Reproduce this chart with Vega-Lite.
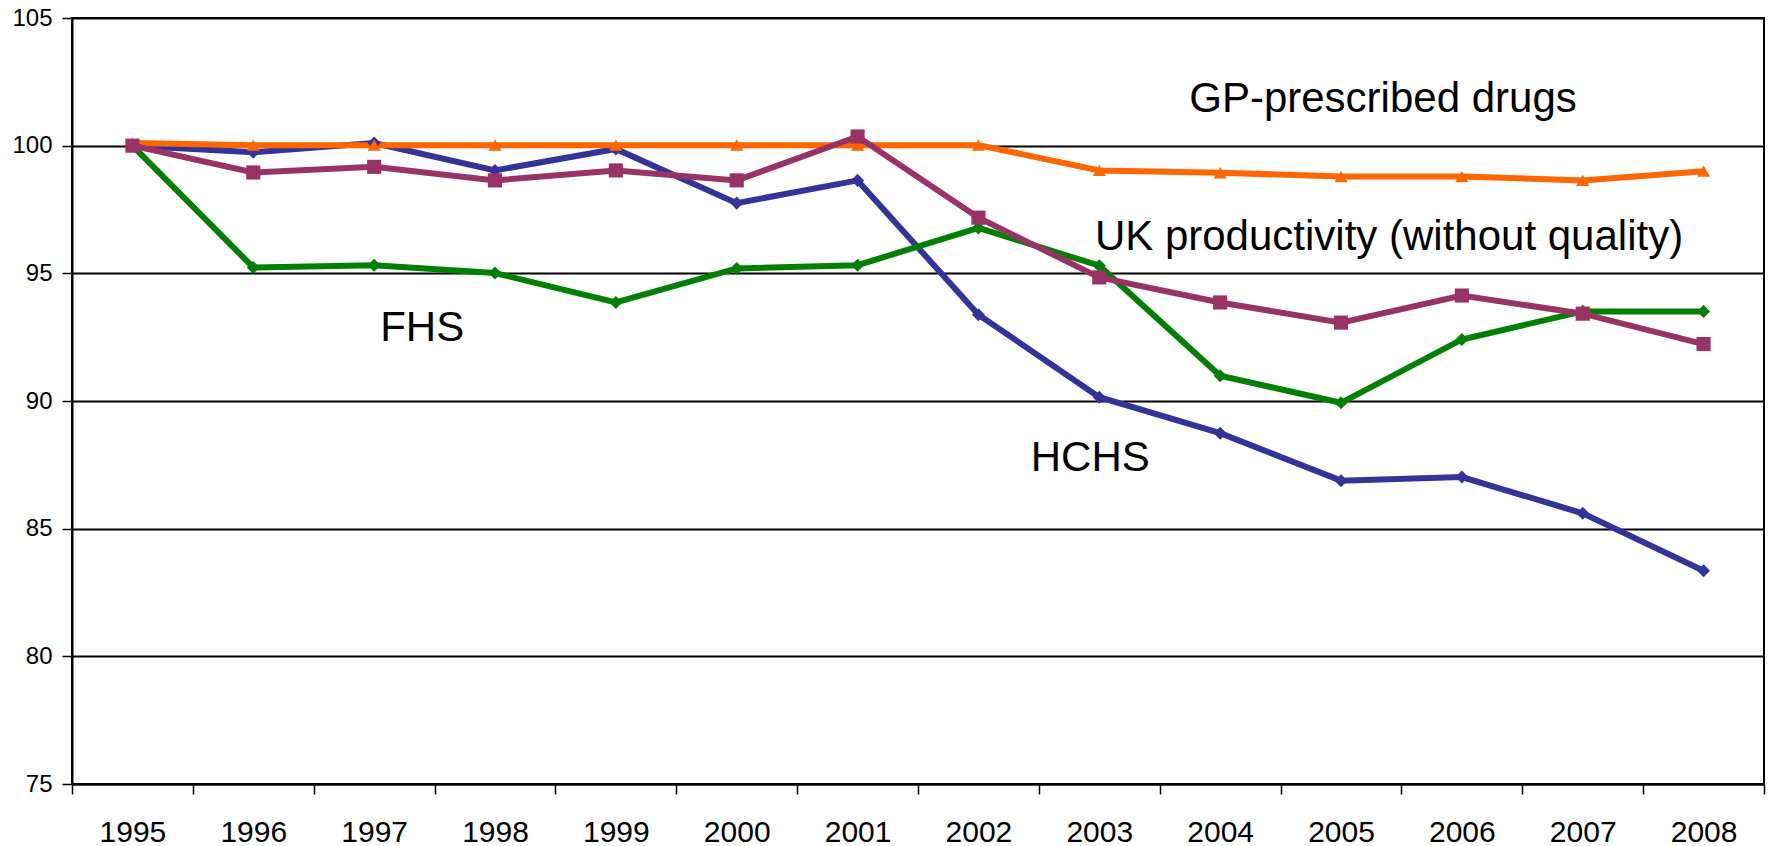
{
  "$schema": "https://vega.github.io/schema/vega-lite/v6.json",
  "autosize": {"type": "none"},
  "padding": {"left": 72, "top": 18, "right": 5, "bottom": 62},
  "width": 1692,
  "height": 766,
  "config": {
    "font": "Liberation Sans",
    "view": {"stroke": "black", "strokeWidth": 2},
    "background": "white"
  },
  "datasets": {
    "series": [
      {"year": "1995", "series": "HCHS", "value": 100.0},
      {"year": "1996", "series": "HCHS", "value": 99.74},
      {"year": "1997", "series": "HCHS", "value": 100.1},
      {"year": "1998", "series": "HCHS", "value": 99.03},
      {"year": "1999", "series": "HCHS", "value": 99.87},
      {"year": "2000", "series": "HCHS", "value": 97.75},
      {"year": "2001", "series": "HCHS", "value": 98.64},
      {"year": "2002", "series": "HCHS", "value": 93.38},
      {"year": "2003", "series": "HCHS", "value": 90.15},
      {"year": "2004", "series": "HCHS", "value": 88.74},
      {"year": "2005", "series": "HCHS", "value": 86.88},
      {"year": "2006", "series": "HCHS", "value": 87.02},
      {"year": "2007", "series": "HCHS", "value": 85.6},
      {"year": "2008", "series": "HCHS", "value": 83.35},
      {"year": "1995", "series": "FHS", "value": 100.0},
      {"year": "1996", "series": "FHS", "value": 95.23},
      {"year": "1997", "series": "FHS", "value": 95.32},
      {"year": "1998", "series": "FHS", "value": 95.01},
      {"year": "1999", "series": "FHS", "value": 93.86},
      {"year": "2000", "series": "FHS", "value": 95.19},
      {"year": "2001", "series": "FHS", "value": 95.32},
      {"year": "2002", "series": "FHS", "value": 96.78},
      {"year": "2003", "series": "FHS", "value": 95.3},
      {"year": "2004", "series": "FHS", "value": 90.99},
      {"year": "2005", "series": "FHS", "value": 89.93},
      {"year": "2006", "series": "FHS", "value": 92.41},
      {"year": "2007", "series": "FHS", "value": 93.51},
      {"year": "2008", "series": "FHS", "value": 93.51},
      {"year": "1995", "series": "GP-prescribed drugs", "value": 100.1},
      {"year": "1996", "series": "GP-prescribed drugs", "value": 100.02},
      {"year": "1997", "series": "GP-prescribed drugs", "value": 100.02},
      {"year": "1998", "series": "GP-prescribed drugs", "value": 100.02},
      {"year": "1999", "series": "GP-prescribed drugs", "value": 100.02},
      {"year": "2000", "series": "GP-prescribed drugs", "value": 100.02},
      {"year": "2001", "series": "GP-prescribed drugs", "value": 100.02},
      {"year": "2002", "series": "GP-prescribed drugs", "value": 100.02},
      {"year": "2003", "series": "GP-prescribed drugs", "value": 99.03},
      {"year": "2004", "series": "GP-prescribed drugs", "value": 98.94},
      {"year": "2005", "series": "GP-prescribed drugs", "value": 98.79},
      {"year": "2006", "series": "GP-prescribed drugs", "value": 98.79},
      {"year": "2007", "series": "GP-prescribed drugs", "value": 98.64},
      {"year": "2008", "series": "GP-prescribed drugs", "value": 99.0},
      {"year": "1995", "series": "UK productivity", "value": 100.0},
      {"year": "1996", "series": "UK productivity", "value": 98.95},
      {"year": "1997", "series": "UK productivity", "value": 99.17},
      {"year": "1998", "series": "UK productivity", "value": 98.64},
      {"year": "1999", "series": "UK productivity", "value": 99.03},
      {"year": "2000", "series": "UK productivity", "value": 98.64},
      {"year": "2001", "series": "UK productivity", "value": 100.36},
      {"year": "2002", "series": "UK productivity", "value": 97.18},
      {"year": "2003", "series": "UK productivity", "value": 94.84},
      {"year": "2004", "series": "UK productivity", "value": 93.86},
      {"year": "2005", "series": "UK productivity", "value": 93.07},
      {"year": "2006", "series": "UK productivity", "value": 94.13},
      {"year": "2007", "series": "UK productivity", "value": 93.42},
      {"year": "2008", "series": "UK productivity", "value": 92.23}
    ],
    "labels": [
      {"label": "GP-prescribed drugs", "year": "2005", "value": 101.82},
      {"label": "UK productivity (without quality)", "year": "2005", "value": 96.43},
      {"label": "FHS", "year": "1997", "value": 92.85},
      {"label": "HCHS", "year": "2003", "value": 87.77}
    ]
  },
  "encoding": {
    "x": {
      "field": "year",
      "type": "ordinal",
      "bandPosition": 0.5,
      "scale": {"type": "band", "paddingInner": 0, "paddingOuter": 0, "domain": ["1995","1996","1997","1998","1999","2000","2001","2002","2003","2004","2005","2006","2007","2008"]},
      "axis": {
        "title": null,
        "tickBand": "extent",
        "labelAngle": 0,
        "labelFontSize": 30,
        "labelColor": "black",
        "labelPadding": 23,
        "tickSize": 10,
        "tickColor": "black",
        "tickWidth": 1.5,
        "domainColor": "black",
        "domainWidth": 2,
        "grid": false
      }
    },
    "y": {
      "field": "value",
      "type": "quantitative",
      "scale": {"domain": [75, 105], "nice": false, "zero": false},
      "axis": {
        "title": null,
        "values": [75, 80, 85, 90, 95, 100, 105],
        "labelFontSize": 24,
        "labelColor": "black",
        "labelPadding": 10,
        "tickSize": 10,
        "tickColor": "black",
        "tickWidth": 1.5,
        "domainColor": "black",
        "domainWidth": 2,
        "grid": true,
        "gridColor": "black",
        "gridWidth": 2,
        "gridOpacity": 1
      }
    }
  },
  "layer": [
    {
      "data": {"name": "series"},
      "mark": {"type": "line", "strokeWidth": 6},
      "encoding": {
        "color": {
          "field": "series", "type": "nominal", "legend": null,
          "scale": {"domain": ["HCHS", "FHS", "GP-prescribed drugs", "UK productivity"], "range": ["#333399", "#008000", "#FF6600", "#993366"]}
        }
      }
    },
    {
      "data": {"name": "series"},
      "transform": [{"filter": "datum.series === 'HCHS'"}],
      "mark": {"type": "point", "shape": "diamond", "filled": true, "opacity": 1, "size": 170, "color": "#333399"}
    },
    {
      "data": {"name": "series"},
      "transform": [{"filter": "datum.series === 'FHS'"}],
      "mark": {"type": "point", "shape": "diamond", "filled": true, "opacity": 1, "size": 170, "color": "#008000"}
    },
    {
      "data": {"name": "series"},
      "transform": [{"filter": "datum.series === 'GP-prescribed drugs'"}],
      "mark": {"type": "point", "shape": "triangle-up", "filled": true, "opacity": 1, "size": 170, "color": "#FF6600"}
    },
    {
      "data": {"name": "series"},
      "transform": [{"filter": "datum.series === 'UK productivity'"}],
      "mark": {"type": "point", "shape": "square", "filled": true, "opacity": 1, "size": 200, "color": "#993366"}
    },
    {
      "data": {"name": "labels"},
      "transform": [{"filter": "datum.label === 'GP-prescribed drugs'"}],
      "mark": {"type": "text", "fontSize": 42, "color": "black", "align": "center", "baseline": "middle", "dx": 42},
      "encoding": {"text": {"field": "label"}}
    },
    {
      "data": {"name": "labels"},
      "transform": [{"filter": "datum.label === 'UK productivity (without quality)'"}],
      "mark": {"type": "text", "fontSize": 42, "color": "black", "align": "center", "baseline": "middle", "dx": 48},
      "encoding": {"text": {"field": "label"}}
    },
    {
      "data": {"name": "labels"},
      "transform": [{"filter": "datum.label === 'FHS'"}],
      "mark": {"type": "text", "fontSize": 42, "color": "black", "align": "center", "baseline": "middle", "dx": 48},
      "encoding": {"text": {"field": "label"}}
    },
    {
      "data": {"name": "labels"},
      "transform": [{"filter": "datum.label === 'HCHS'"}],
      "mark": {"type": "text", "fontSize": 42, "color": "black", "align": "center", "baseline": "middle", "dx": -9},
      "encoding": {"text": {"field": "label"}}
    }
  ]
}
